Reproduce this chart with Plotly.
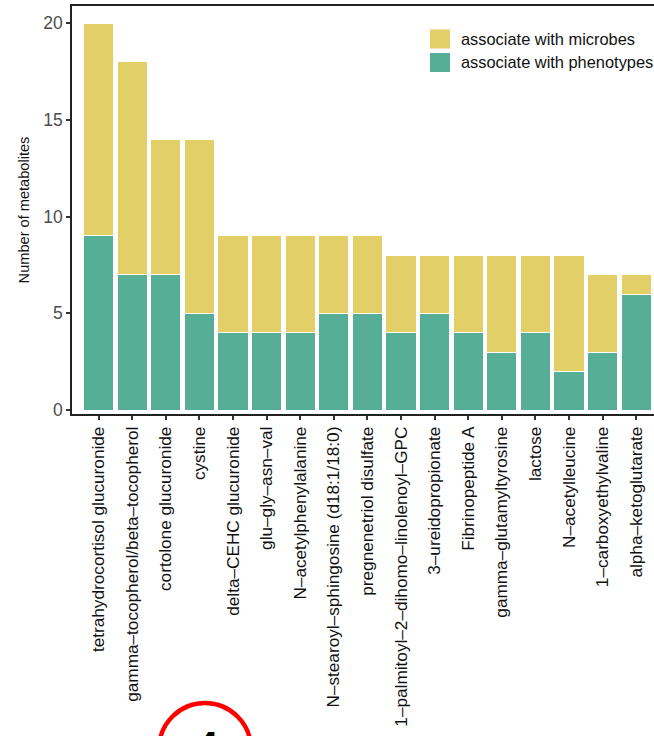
import plotly.graph_objects as go

categories = [
    "tetrahydrocortisol glucuronide",
    "gamma–tocopherol/beta–tocopherol",
    "cortolone glucuronide",
    "cystine",
    "delta–CEHC glucuronide",
    "glu–gly–asn–val",
    "N–acetylphenylalanine",
    "N–stearoyl–sphingosine (d18:1/18:0)",
    "pregnenetriol disulfate",
    "1–palmitoyl–2–dihomo–linolenoyl–GPC",
    "3–ureidopropionate",
    "Fibrinopeptide A",
    "gamma–glutamyltyrosine",
    "lactose",
    "N–acetylleucine",
    "1–carboxyethylvaline",
    "alpha–ketoglutarate",
]
phenotypes = [9, 7, 7, 5, 4, 4, 4, 5, 5, 4, 5, 4, 3, 4, 2, 3, 6]
microbes = [11, 11, 7, 9, 5, 5, 5, 4, 4, 4, 3, 4, 5, 4, 6, 4, 1]
legend_labels = ["associate with microbes", "associate with phenotypes"]

YELLOW = "#E3CF68"
GREEN = "#57AE96"

x_idx = list(range(len(categories)))

fig = go.Figure()
fig.add_trace(go.Bar(
    x=x_idx, y=phenotypes, name=legend_labels[1],
    marker=dict(color=GREEN, line=dict(color="white", width=1)),
    width=0.9, showlegend=False,
))
fig.add_trace(go.Bar(
    x=x_idx, y=microbes, name=legend_labels[0],
    marker=dict(color=YELLOW, line=dict(color="white", width=1)),
    width=0.9, showlegend=False,
))

W, H = 654, 736
L, R, T, B = 72, 0, 6, 322
pw = W - L - R
ph = H - T - B

def px(xp):
    return (xp - L) / pw

def py(yp):
    return (H - B - yp) / ph

fig.update_layout(
    barmode="stack",
    width=W, height=H,
    margin=dict(l=L, r=R, t=T, b=B, pad=0),
    plot_bgcolor="white", paper_bgcolor="white",
    font=dict(family="Liberation Sans, Arial, sans-serif", color="#222222"),
    showlegend=False,
    bargap=0.1,
)

fig.update_xaxes(
    range=[-0.79, 16.53],
    tickmode="array", tickvals=x_idx, ticktext=categories,
    tickangle=-90, tickfont=dict(size=17.2, color="#111111"),
    ticks="outside", ticklen=4, tickwidth=1.5, tickcolor="#333333",
    showline=True, linecolor="#222222", linewidth=1.5, mirror=True,
    showgrid=False, zeroline=False,
)
fig.update_yaxes(
    range=[-0.2, 20.88],
    tickvals=[0, 5, 10, 15, 20],
    tickfont=dict(size=17.5, color="#4D4D4D"),
    ticks="outside", ticklen=4, tickwidth=1.5, tickcolor="#333333",
    showline=True, linecolor="#222222", linewidth=1.5,
    showgrid=False, zeroline=False,
    title=dict(text="Number of metabolites", font=dict(size=14.6, color="#111111"), standoff=10),
)

# manual legend
for i, (lab, col) in enumerate(zip(legend_labels, [YELLOW, GREEN])):
    cy = 39 + i * 23.5
    fig.add_shape(
        type="rect", xref="paper", yref="paper",
        x0=px(430), x1=px(450), y0=py(cy + 9.5), y1=py(cy - 9.5),
        line=dict(width=0), fillcolor=col, layer="above",
    )
    fig.add_annotation(
        text=lab, xref="paper", yref="paper",
        x=px(459), y=py(cy), xanchor="left", yanchor="middle",
        showarrow=False, font=dict(size=16.4, color="#111111"),
    )

# red circle marker at the bottom (partially cut off)
fig.add_shape(
    type="circle", xref="paper", yref="paper",
    x0=px(159), x1=px(251), y0=py(795), y1=py(703),
    line=dict(color="red", width=4.5), fillcolor="rgba(0,0,0,0)", layer="above",
)
fig.add_annotation(
    text="<b>4</b>", xref="paper", yref="paper",
    x=px(207), y=py(746), xanchor="center", yanchor="middle",
    showarrow=False, font=dict(size=40, color="black"),
)

fig.write_html(
    "out.html",
    config={"displayModeBar": False},
    post_script="document.body.style.margin='0';document.body.style.overflow='hidden';",
)
